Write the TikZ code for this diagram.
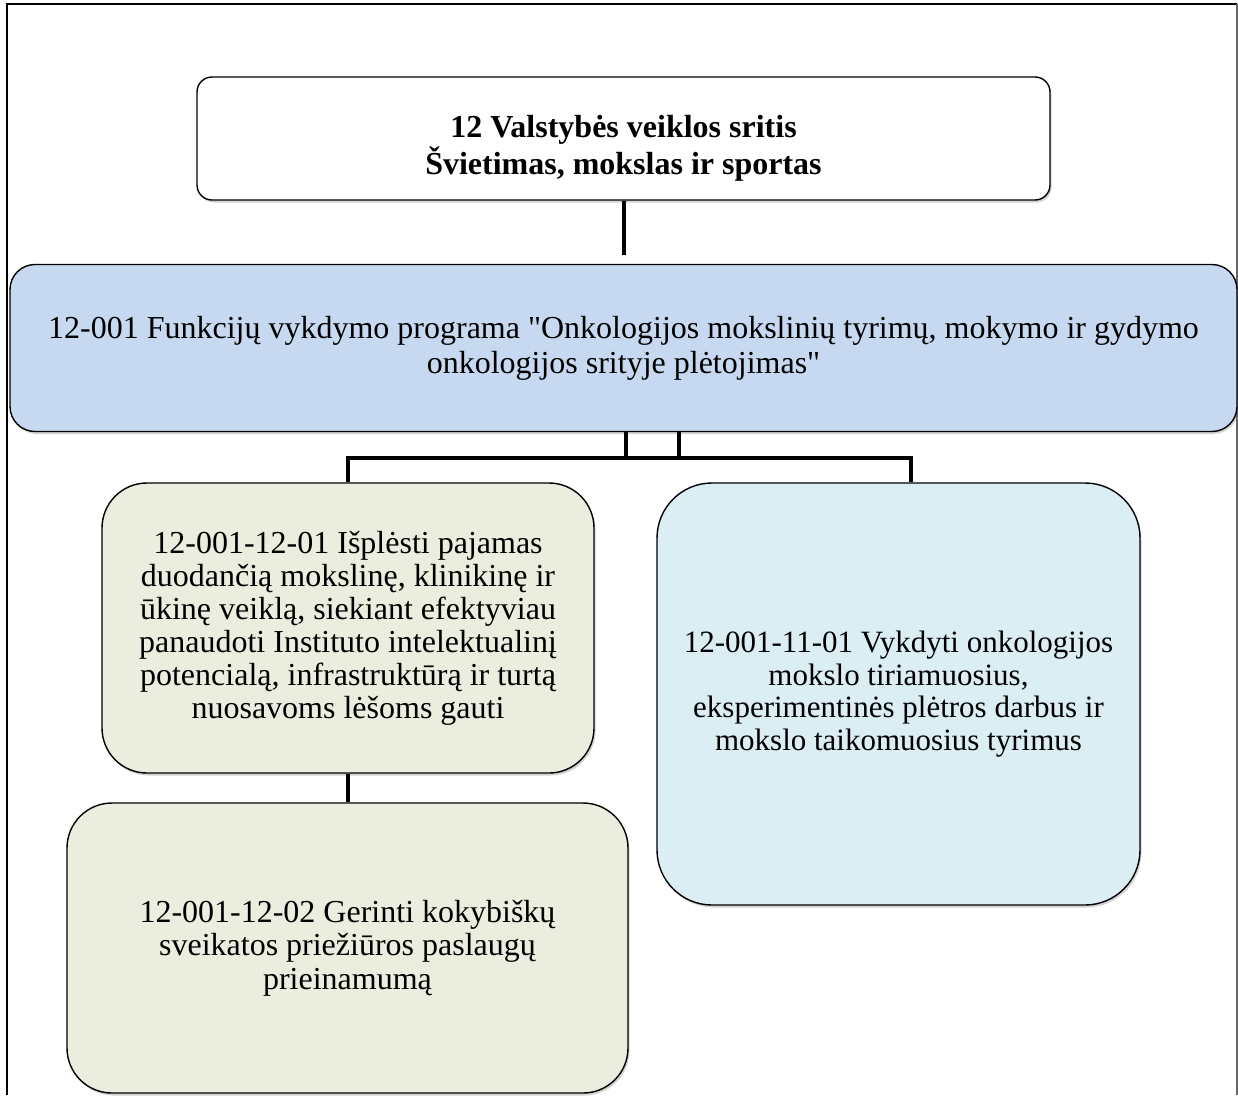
\documentclass[tikz,border=0pt]{standalone}
\usepackage{fontspec}
\setmainfont{Liberation Serif}
\newfontfamily\plainserif{Liberation Serif}[Ligatures=TeXOff]
\usetikzlibrary{shadows}
\definecolor{progblue}{RGB}{198,217,240}
\definecolor{goalgreen}{RGB}{235,238,222}
\definecolor{goalblue}{RGB}{219,238,244}
\begin{document}
\begin{tikzpicture}[x=1pt,y=-1pt,
  box/.style={draw=black, line width=1.4pt, align=center, inner sep=0pt,
    font=\fontsize{32}{33}\selectfont,
    drop shadow={shadow xshift=1.5pt, shadow yshift=-2.5pt, opacity=0.35}},
  conn/.style={line width=4.5pt, line join=miter}]
\useasboundingbox (0,0) rectangle (1238,1095);
% frame
\draw[line width=2pt] (7,1095) -- (7,4) -- (1237,4);
\draw[line width=2pt, black!60] (1237,4) -- (1237,1095);
% boxes
\node[box, fill=white, rounded corners=15pt, minimum width=853pt, minimum height=123pt,
  label={[name=areatext, align=center, yshift=-10pt, font=\bfseries\fontsize{32}{37}\selectfont]center:{12 Valstybės veiklos sritis\\Švietimas, mokslas ir sportas}}]
  (area) at (623.5,138.5) {};
\node[box, fill=progblue, rounded corners=25pt, minimum width=1227pt, minimum height=167pt,
  font=\plainserif\fontsize{32}{35}\selectfont] (prog) at (623.5,348)
  {12-001 Funkcijų vykdymo programa "Onkologijos mokslinių tyrimų, mokymo ir gydymo\\onkologijos srityje plėtojimas"};
\node[box, fill=goalgreen, rounded corners=45pt, minimum width=492pt, minimum height=290pt] (g1) at (348,628)
  {12-001-12-01 Išplėsti pajamas\\duodančią mokslinę, klinikinę ir\\ūkinę veiklą, siekiant efektyviau\\panaudoti Instituto intelektualinį\\potencialą, infrastruktūrą ir turtą\\nuosavoms lėšoms gauti};
\node[box, fill=goalgreen, rounded corners=45pt, minimum width=561pt, minimum height=290pt,
  font=\fontsize{32}{33.5}\selectfont] (g2) at (347.5,948)
  {12-001-12-02 Gerinti kokybiškų\\sveikatos priežiūros paslaugų\\prieinamumą};
\node[box, fill=goalblue, rounded corners=55pt, minimum width=483pt, minimum height=422pt,
  font=\fontsize{31}{32.5}\selectfont] (gb) at (898.5,694)
  {12-001-11-01 Vykdyti onkologijos\\mokslo tiriamuosius,\\eksperimentinės plėtros darbus ir\\mokslo taikomuosius tyrimus};
% connectors
\coordinate (c0) at (624,255);
\coordinate (j1) at (626,458);
\coordinate (j2) at (679,458);
\coordinate (busL) at (348,458);
\coordinate (busR) at (911,458);
\draw[conn] (area.south -| c0) -- (c0);
\draw[conn] (j1 |- prog.south) -- (j1);
\draw[conn] (j2 |- prog.south) -- (j2);
\draw[conn] (g1.north) -- (busL) -- (busR) -- (busR |- gb.north);
\draw[conn] (g1.south) -- (g1.south |- g2.north);
\end{tikzpicture}
\end{document}
